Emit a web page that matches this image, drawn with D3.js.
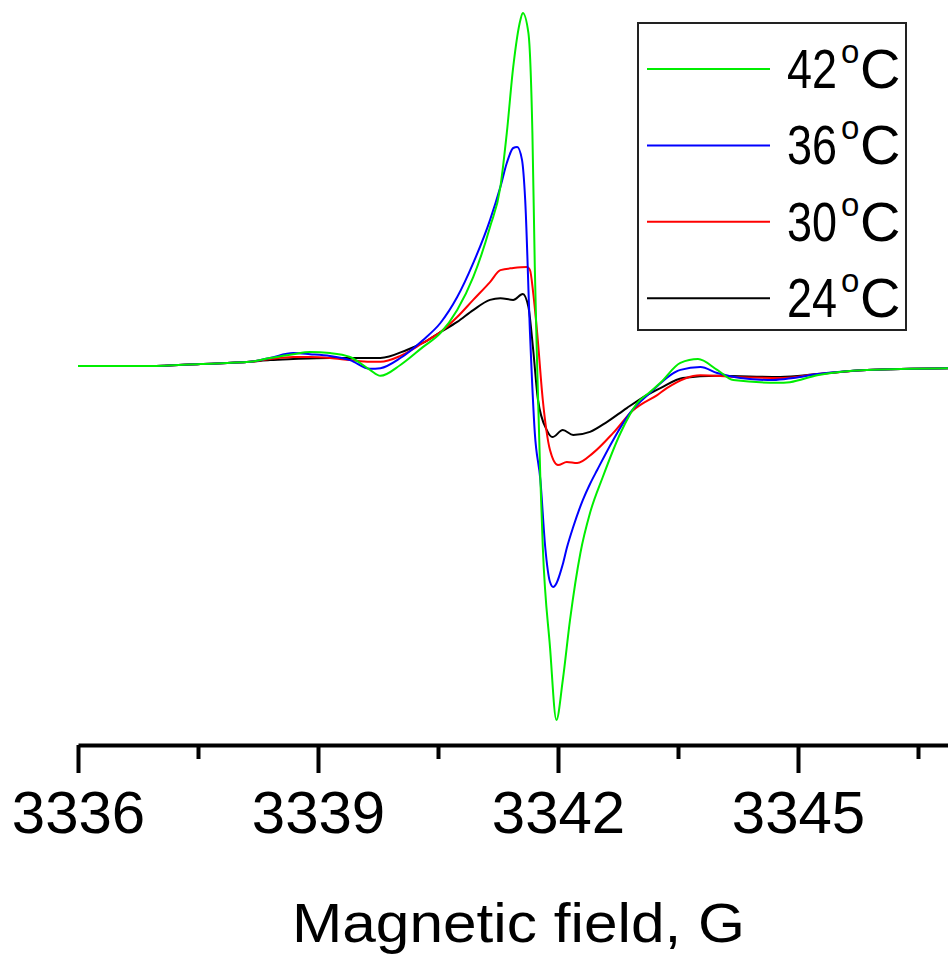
<!DOCTYPE html>
<html>
<head>
<meta charset="utf-8">
<script src="https://cdn.jsdelivr.net/npm/d3@7"></script>
<style>
  body { margin: 0; background: #fff; }
  #container { width: 948px; height: 961px; }
  text { font-family: "Liberation Sans", Arial, sans-serif; fill: #000; }
</style>
</head>
<body>
<div id="container"></div>
<script>
// data: [field (G), intensity (a.u.)]
const temps = ["42", "36", "30", "24"];
const colors = ["#00ee00", "#0000ff", "#ff0000", "#000000"];

const s42 = [
  [3336.00, -0.3], [3336.90, -0.3], [3337.53, 0.3], [3338.15, 0.9], [3338.40, 2.0],
  [3338.69, 3.1], [3338.90, 3.7], [3339.15, 3.4], [3339.40, 2.3], [3339.65, -1.4],
  [3339.78, -3.1], [3340.03, 0.0], [3340.31, 5.1], [3340.53, 9.1], [3340.74, 15.7],
  [3340.94, 25.1], [3341.15, 39.4], [3341.28, 50.9], [3341.36, 66.3], [3341.44, 85.1],
  [3341.53, 98.6], [3341.56, 100.6], [3341.63, 94.9], [3341.68, 66.3], [3341.71, 28.0],
  [3341.74, -0.6], [3341.78, -32.9], [3341.81, -52.0], [3341.90, -80.6], [3341.98, -101.4],
  [3342.06, -90.0], [3342.15, -72.9], [3342.28, -53.7], [3342.40, -42.3], [3342.56, -32.0],
  [3342.78, -19.5], [3342.99, -10.9], [3343.15, -7.7], [3343.28, -5.1],
  [3343.53, 0.6], [3343.75, 1.7], [3343.99, -1.4], [3344.19, -4.3], [3344.74, -5.1],
  [3344.90, -4.9], [3345.24, -2.9], [3345.86, -1.4], [3346.88, -0.9]
];
const s36 = [
  [3336.00, -0.3], [3336.90, -0.3], [3337.53, 0.3], [3338.15, 0.9], [3338.40, 2.0],
  [3338.69, 3.4], [3338.90, 3.1], [3339.15, 2.6], [3339.40, 1.4], [3339.65, -1.1],
  [3339.78, -0.9], [3340.03, 2.0], [3340.31, 7.1], [3340.53, 12.0], [3340.74, 19.4],
  [3340.94, 29.1], [3341.15, 41.4], [3341.28, 50.9], [3341.36, 57.7], [3341.44, 62.0],
  [3341.49, 62.3], [3341.55, 58.6], [3341.59, 47.1], [3341.65, 9.1], [3341.71, -19.4],
  [3341.78, -32.9], [3341.84, -52.0], [3341.90, -62.0], [3341.94, -63.4], [3342.06, -56.9],
  [3342.11, -52.3], [3342.19, -46.3], [3342.31, -38.6], [3342.40, -34.0], [3342.49, -30.0],
  [3342.69, -21.4], [3342.90, -13.7], [3343.15, -8.0], [3343.53, -1.4], [3343.78, -0.6],
  [3343.99, -2.3], [3344.28, -3.7], [3344.69, -4.3], [3344.94, -3.7], [3345.24, -2.6],
  [3345.86, -1.4], [3346.88, -0.9]
];
const s30 = [
  [3336.00, -0.3], [3336.90, -0.3], [3337.53, 0.3], [3338.15, 0.9], [3338.40, 1.7],
  [3338.69, 2.3], [3338.90, 2.3], [3339.15, 2.0], [3339.40, 1.4], [3339.65, 0.9],
  [3339.78, 0.9], [3340.03, 2.6], [3340.31, 6.3], [3340.53, 9.4], [3340.74, 13.7],
  [3340.94, 18.6], [3341.15, 23.7], [3341.28, 27.1], [3341.44, 27.7], [3341.61, 28.0],
  [3341.65, 27.1], [3341.69, 20.6], [3341.74, 9.1], [3341.81, -10.0], [3341.90, -24.3],
  [3342.00, -28.6], [3342.11, -27.7], [3342.24, -28.0], [3342.44, -25.1], [3342.69, -19.4],
  [3342.94, -12.9], [3343.03, -11.4], [3343.24, -8.6], [3343.36, -6.6], [3343.78, -2.9],
  [3344.19, -3.4], [3344.81, -3.7], [3345.24, -2.6], [3345.86, -1.4], [3346.88, -0.9]
];
const s24 = [
  [3336.00, -0.3], [3336.90, -0.3], [3337.53, 0.3], [3338.15, 0.9], [3338.40, 1.4],
  [3338.69, 1.7], [3339.15, 2.0], [3339.65, 2.0], [3339.78, 2.0], [3340.11, 4.3],
  [3340.31, 6.3], [3340.53, 9.4], [3340.74, 12.3], [3340.94, 15.7], [3341.15, 18.6],
  [3341.28, 19.1], [3341.44, 18.6], [3341.56, 20.3], [3341.63, 16.6], [3341.69, 4.3],
  [3341.75, -10.0], [3341.86, -18.6], [3341.93, -20.6], [3342.06, -18.6], [3342.19, -20.0],
  [3342.40, -19.1], [3342.61, -16.3], [3342.86, -12.3], [3343.11, -8.6], [3343.28, -6.6],
  [3343.56, -3.7], [3343.99, -3.1], [3344.78, -3.4], [3345.24, -2.6], [3345.86, -1.4],
  [3346.88, -0.9]
];
const series = [s42, s36, s30, s24];

const majorTicks = [3336, 3339, 3342, 3345];
const minorTicks = [3337.5, 3340.5, 3343.5, 3346.5];

//画布
let width = 948, height = 961;
let svg = d3.select("#container")
    .append('svg')
    .attr('width', width)
    .attr('height', height);

//比例尺
let xScale = d3.scaleLinear()
    .domain([3336, 3346.875])
    .range([78, 948]);
let yScale = d3.scaleLinear()
    .domain([-100, 100])
    .range([715, 15]);

//曲线
let line = d3.line()
    .x(d => xScale(d[0]))
    .y(d => yScale(d[1]))
    .curve(d3.curveMonotoneX);

// draw bottom-most first so green is on top like the original
[3, 2, 1, 0].forEach(function (i) {
    svg.append('path')
        .datum(series[i])
        .attr('d', line)
        .attr('fill', 'none')
        .attr('stroke', colors[i])
        .attr('stroke-width', 2)
        .attr('stroke-linejoin', 'round');
});

//坐标轴
let axisY = 745;
let xAxis = d3.axisBottom(xScale)
    .tickValues(majorTicks)
    .tickSize(28)
    .tickSizeOuter(0)
    .tickPadding(17)
    .tickFormat(d3.format('d'));
let xg = svg.append('g')
    .attr('transform', 'translate(0,' + axisY + ')')
    .call(xAxis);
xg.select('.domain').attr('stroke', '#000').attr('stroke-width', 4);
xg.selectAll('.tick line').attr('stroke', '#000').attr('stroke-width', 4);
xg.selectAll('.tick text')
    .attr('font-size', 60)
    .attr('font-family', '"Liberation Sans", Arial, sans-serif')
    .attr('fill', '#000');

let minorAxis = d3.axisBottom(xScale)
    .tickValues(minorTicks)
    .tickSize(14)
    .tickSizeOuter(0)
    .tickFormat('');
let mg = svg.append('g')
    .attr('transform', 'translate(0,' + axisY + ')')
    .call(minorAxis);
mg.select('.domain').remove();
mg.selectAll('.tick line').attr('stroke', '#000').attr('stroke-width', 4);

svg.append('text')
    .attr('x', 292)
    .attr('y', 942)
    .attr('font-size', 55)
    .attr('textLength', 453)
    .attr('lengthAdjust', 'spacingAndGlyphs')
    .text('Magnetic field, G');

//图例
let lg = svg.append('g');
lg.append('rect')
    .attr('x', 638).attr('y', 23)
    .attr('width', 268).attr('height', 307)
    .attr('fill', 'none')
    .attr('stroke', '#222')
    .attr('stroke-width', 2);

temps.forEach(function (t, i) {
    let ly = 69 + i * 76.4;
    lg.append('line')
        .attr('x1', 647).attr('x2', 770)
        .attr('y1', ly).attr('y2', ly)
        .attr('stroke', colors[i])
        .attr('stroke-width', 2);
    let tx = lg.append('text')
        .attr('y', ly + 19)
        .attr('font-size', 56);
    tx.append('tspan')
        .attr('x', 787)
        .attr('textLength', 50)
        .attr('lengthAdjust', 'spacingAndGlyphs')
        .text(t);
    tx.append('tspan')
        .attr('x', 841)
        .attr('dy', -25)
        .attr('font-size', 33)
        .text('o');
    tx.append('tspan')
        .attr('x', 860)
        .attr('dy', 25)
        .text('C');
});
</script>
</body>
</html>
